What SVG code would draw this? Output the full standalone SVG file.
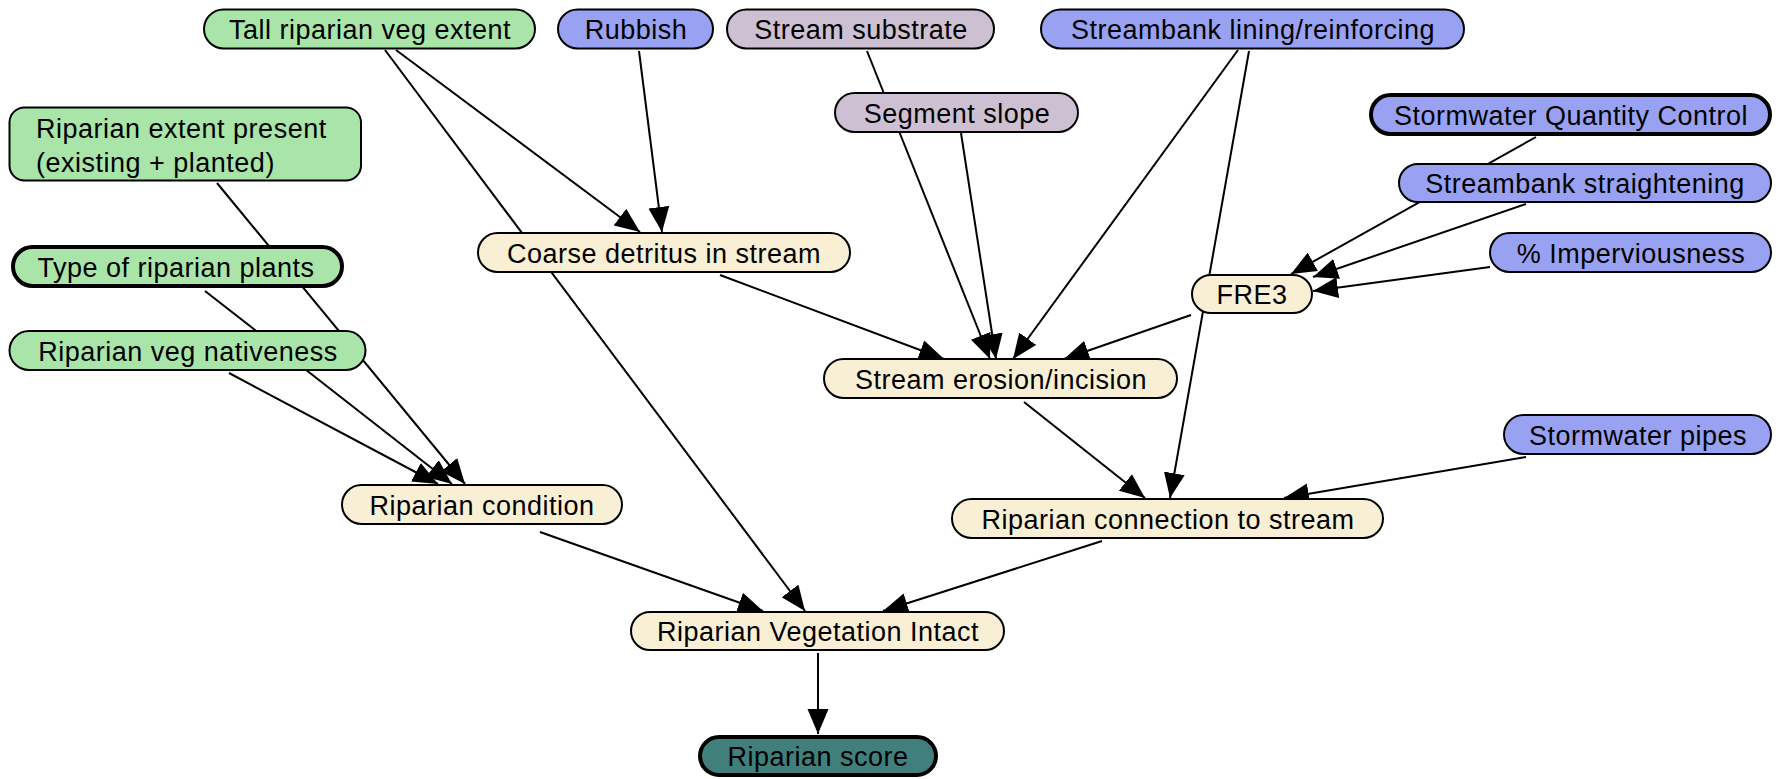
<svg xmlns="http://www.w3.org/2000/svg" width="1778" height="779" viewBox="0 0 1778 779">
<defs>
<style>
.n rect{stroke:#000;stroke-width:2}
.thick rect{stroke-width:4}
.g rect{fill:#a9e5a9}
.b rect{fill:#99a2f2}
.m rect{fill:#cdc0d3}
.c rect{fill:#f8efd5}
.t rect{fill:#407f7c}
text{font-family:"Liberation Sans",Arial,sans-serif;font-size:27px;letter-spacing:0.5px;fill:#000;text-anchor:middle}
.e line{stroke:#000;stroke-width:2;fill:none;marker-end:url(#ah)}
</style>
<marker id="ah" markerUnits="userSpaceOnUse" viewBox="0 0 25 22" markerWidth="25" markerHeight="22" refX="25" refY="11" orient="auto">
<path d="M0,0.5 L25,11 L0,21.5 Z" fill="#000"/>
</marker>
</defs>
<rect width="1778" height="779" fill="#fff"/>
<g id="edges" class="e">
<line x1="396" y1="50" x2="640" y2="232"/>
<line x1="385" y1="50" x2="805" y2="611"/>
<line x1="639" y1="51" x2="662" y2="232"/>
<line x1="867" y1="51" x2="990" y2="359"/>
<line x1="961" y1="133" x2="996" y2="359"/>
<line x1="1238" y1="50" x2="1013" y2="359"/>
<line x1="1249" y1="51" x2="1170" y2="498"/>
<line x1="1536" y1="137" x2="1291" y2="274"/>
<line x1="1526" y1="204" x2="1313" y2="277"/>
<line x1="1490" y1="267" x2="1313" y2="291"/>
<line x1="1191" y1="315" x2="1064" y2="359"/>
<line x1="1024" y1="402" x2="1145" y2="498"/>
<line x1="1526" y1="457" x2="1284" y2="498"/>
<line x1="540" y1="532" x2="763" y2="611"/>
<line x1="1102" y1="541" x2="883" y2="611"/>
<line x1="818" y1="653" x2="818" y2="734"/>
<line x1="720" y1="275" x2="944" y2="359"/>
<line x1="217" y1="183" x2="465" y2="484"/>
<line x1="205" y1="291" x2="452" y2="484"/>
<line x1="229" y1="373" x2="438" y2="484"/>
</g>
<g id="tall" class="n g"><rect x="204" y="9.5" width="331" height="39" rx="19.5"/><text x="370" y="38.5">Tall riparian veg extent</text></g>
<g id="rubbish" class="n b"><rect x="558" y="9.5" width="155" height="39" rx="19.5"/><text x="636" y="38.5">Rubbish</text></g>
<g id="substrate" class="n m"><rect x="727" y="9.5" width="267" height="39" rx="19.5"/><text x="861" y="38.5">Stream substrate</text></g>
<g id="lining" class="n b"><rect x="1041" y="9.5" width="423" height="39" rx="19.5"/><text x="1253" y="38.5">Streambank lining/reinforcing</text></g>
<g id="extent" class="n g"><rect x="9.5" y="107.5" width="351.5" height="73" rx="15"/><text x="36" y="137.5" style="text-anchor:start">Riparian extent present</text><text x="36" y="171.5" style="text-anchor:start">(existing + planted)</text></g>
<g id="slope" class="n m"><rect x="835" y="93" width="243" height="39" rx="19.5"/><text x="957" y="122.5">Segment slope</text></g>
<g id="qc" class="n b thick"><rect x="1371" y="95" width="399" height="39" rx="19.5"/><text x="1571" y="124.5">Stormwater Quantity Control</text></g>
<g id="straight" class="n b"><rect x="1399" y="164" width="372" height="38" rx="19"/><text x="1585" y="192.5">Streambank straightening</text></g>
<g id="imperv" class="n b"><rect x="1490" y="233" width="281" height="39" rx="19.5"/><text x="1631" y="262.5">% Imperviousness</text></g>
<g id="fre3" class="n c"><rect x="1192" y="275" width="120" height="38" rx="19"/><text x="1252" y="303.5">FRE3</text></g>
<g id="coarse" class="n c"><rect x="478" y="233" width="372" height="39" rx="19.5"/><text x="664" y="262.5">Coarse detritus in stream</text></g>
<g id="type" class="n g thick"><rect x="13" y="247" width="329" height="39" rx="19.5"/><text x="176" y="276.5">Type of riparian plants</text></g>
<g id="native" class="n g"><rect x="9.5" y="331" width="356" height="39" rx="19.5"/><text x="188" y="360.5">Riparian veg nativeness</text></g>
<g id="erosion" class="n c"><rect x="824" y="359" width="353" height="39" rx="19.5"/><text x="1001" y="388.5">Stream erosion/incision</text></g>
<g id="pipes" class="n b"><rect x="1504" y="415" width="267" height="39" rx="19.5"/><text x="1638" y="444.5">Stormwater pipes</text></g>
<g id="condition" class="n c"><rect x="342" y="485" width="280" height="39" rx="19.5"/><text x="482" y="514.5">Riparian condition</text></g>
<g id="connection" class="n c"><rect x="952" y="499" width="431" height="39" rx="19.5"/><text x="1168" y="528.5">Riparian connection to stream</text></g>
<g id="intact" class="n c"><rect x="631" y="612" width="373" height="38" rx="19"/><text x="818" y="641">Riparian Vegetation Intact</text></g>
<g id="score" class="n t thick"><rect x="700" y="737" width="236" height="38" rx="19"/><text x="818" y="766">Riparian score</text></g>
</svg>
